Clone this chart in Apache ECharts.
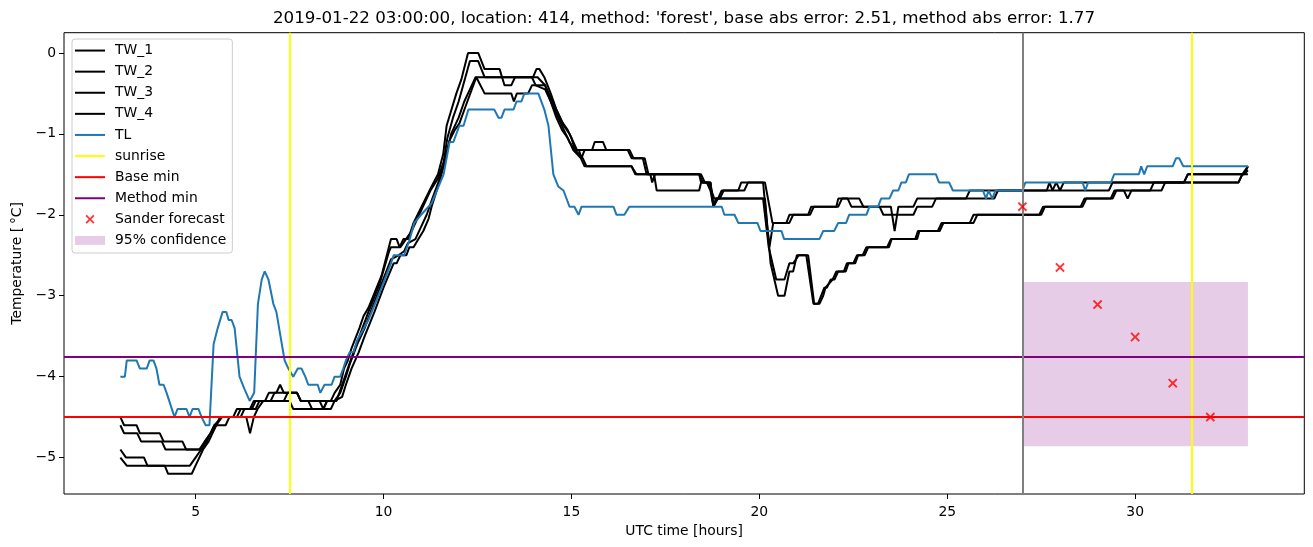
<!DOCTYPE html>
<html><head><meta charset="utf-8">
<script src="https://cdn.jsdelivr.net/npm/echarts@6/dist/echarts.min.js"></script>
<style>html,body{margin:0;padding:0;background:#fff}#c{width:1313px;height:547px}</style>
</head><body><div id="c"></div>
<script>
// ---- data (hours, degC) ----
const TW_1 = [[3.0,-4.5],[3.1,-4.6],[3.43,-4.6],[3.52,-4.7],[4.05,-4.7],[4.15,-4.8],[4.65,-4.8],[4.75,-4.9],[5.1,-4.9],[5.25,-4.8],[5.4,-4.7],[5.5,-4.6],[5.7,-4.5],[6.0,-4.5],[6.1,-4.4],[6.45,-4.4],[6.55,-4.3],[6.85,-4.3],[6.95,-4.2],[7.15,-4.2],[7.25,-4.1],[7.35,-4.2],[7.7,-4.2],[7.8,-4.3],[8.6,-4.3],[8.7,-4.2],[8.85,-4.1],[8.95,-3.9],[9.05,-3.8],[9.15,-3.65],[9.36,-3.4],[9.47,-3.25],[9.6,-3.15],[9.95,-2.75],[10.2,-2.3],[10.35,-2.3],[10.43,-2.4],[10.53,-2.3],[10.66,-2.3],[10.8,-2.1],[10.96,-1.95],[11.28,-1.65],[11.45,-1.5],[11.59,-1.25],[11.68,-0.9],[11.81,-0.7],[11.94,-0.5],[12.07,-0.33],[12.25,0.0],[12.52,0.0],[12.69,-0.2],[13.09,-0.2],[13.22,-0.4],[13.4,-0.4],[13.5,-0.3],[13.98,-0.3],[14.07,-0.2],[14.15,-0.2],[14.28,-0.3],[14.45,-0.5],[14.6,-0.7],[14.75,-0.85],[14.9,-0.95],[15.0,-1.05],[15.1,-1.2],[15.2,-1.2],[15.27,-1.3],[15.35,-1.2],[15.55,-1.2],[15.62,-1.1],[15.84,-1.1],[15.93,-1.2],[16.5,-1.2],[16.6,-1.3],[16.9,-1.3],[17.0,-1.5],[17.1,-1.5],[17.15,-1.6],[17.22,-1.5],[18.4,-1.5],[18.5,-1.6],[18.65,-1.6],[18.8,-1.8],[18.9,-1.8],[19.0,-1.7],[19.44,-1.7],[19.52,-1.6],[20.1,-1.6],[20.2,-2.1],[20.27,-2.4],[20.37,-2.1],[20.72,-2.1],[20.8,-2.0],[21.3,-2.0],[21.38,-1.9],[22.05,-1.9],[22.1,-1.8],[22.66,-1.8],[22.77,-1.9],[23.5,-1.9],[23.6,-2.2],[23.7,-1.9],[24.1,-1.9],[24.2,-1.8],[25.5,-1.8],[25.6,-1.7],[27.65,-1.7],[27.72,-1.6],[27.8,-1.7],[27.9,-1.6],[28.0,-1.7],[28.1,-1.6],[31.3,-1.6],[31.4,-1.5],[32.9,-1.5],[33.0,-1.4]];
const TW_2 = [[3.0,-4.6],[3.1,-4.7],[3.45,-4.7],[3.55,-4.8],[4.1,-4.8],[4.2,-4.9],[5.15,-4.9],[5.3,-4.8],[5.4,-4.7],[5.55,-4.6],[5.65,-4.5],[6.35,-4.5],[6.45,-4.7],[6.55,-4.5],[6.65,-4.4],[6.8,-4.3],[7.35,-4.3],[7.45,-4.2],[7.7,-4.2],[7.8,-4.3],[8.0,-4.3],[8.1,-4.4],[8.4,-4.4],[8.5,-4.3],[8.75,-4.3],[8.9,-4.1],[9.05,-3.9],[9.2,-3.7],[9.4,-3.45],[9.6,-3.2],[9.9,-2.85],[10.15,-2.45],[10.2,-2.4],[10.45,-2.4],[10.6,-2.3],[10.75,-2.2],[10.9,-2.05],[11.1,-1.85],[11.25,-1.7],[11.45,-1.55],[11.6,-1.35],[11.7,-1.05],[11.85,-0.8],[12.0,-0.6],[12.15,-0.35],[12.3,-0.1],[12.52,-0.1],[12.69,-0.3],[14.1,-0.3],[14.3,-0.4],[14.5,-0.6],[14.65,-0.75],[14.8,-0.9],[14.95,-1.0],[15.05,-1.1],[15.15,-1.2],[16.55,-1.2],[16.65,-1.3],[16.95,-1.3],[17.05,-1.5],[18.45,-1.5],[18.55,-1.6],[18.7,-1.6],[18.78,-1.9],[18.85,-1.8],[18.95,-1.8],[19.05,-1.7],[19.6,-1.7],[19.7,-1.6],[20.15,-1.6],[20.35,-2.1],[20.8,-2.1],[20.9,-2.0],[21.35,-2.0],[21.45,-1.9],[22.1,-1.9],[22.2,-1.8],[22.35,-1.8],[22.45,-1.9],[23.2,-1.9],[23.3,-2.0],[24.1,-2.0],[24.2,-1.9],[24.6,-1.9],[24.7,-1.8],[26.25,-1.8],[26.35,-1.7],[29.3,-1.7],[29.4,-1.6],[32.75,-1.6],[32.85,-1.5],[33.0,-1.4]];
const TW_3 = [[3.0,-4.9],[3.15,-5.0],[3.63,-5.0],[3.72,-5.1],[4.85,-5.1],[5.0,-5.0],[5.15,-4.9],[5.25,-4.8],[5.4,-4.7],[5.5,-4.6],[5.8,-4.6],[5.9,-4.5],[6.2,-4.5],[6.3,-4.4],[6.6,-4.4],[6.7,-4.3],[7.5,-4.3],[7.6,-4.4],[8.6,-4.4],[8.7,-4.3],[8.9,-4.25],[9.0,-4.1],[9.15,-3.9],[9.34,-3.7],[9.5,-3.5],[9.76,-3.2],[10.0,-2.9],[10.27,-2.6],[10.35,-2.6],[10.45,-2.5],[10.61,-2.5],[10.69,-2.4],[10.8,-2.4],[10.93,-2.3],[11.06,-2.2],[11.2,-2.05],[11.28,-1.9],[11.45,-1.65],[11.59,-1.42],[11.76,-1.08],[11.9,-0.95],[12.02,-0.87],[12.2,-0.64],[12.47,-0.3],[12.69,-0.5],[13.4,-0.5],[13.47,-0.6],[13.55,-0.5],[13.85,-0.5],[13.95,-0.4],[14.3,-0.4],[14.45,-0.6],[14.6,-0.8],[14.75,-0.95],[14.9,-1.05],[15.05,-1.2],[15.15,-1.25],[15.25,-1.3],[15.35,-1.4],[16.6,-1.4],[16.7,-1.5],[17.2,-1.5],[17.27,-1.7],[18.4,-1.7],[18.45,-1.6],[18.7,-1.6],[18.78,-1.9],[18.85,-1.8],[20.1,-1.8],[20.25,-2.4],[20.45,-2.8],[20.67,-2.8],[20.8,-2.6],[20.9,-2.6],[21.05,-2.5],[21.25,-2.5],[21.44,-3.1],[21.56,-3.1],[21.73,-2.9],[21.8,-2.9],[21.9,-2.8],[22.0,-2.8],[22.1,-2.7],[22.3,-2.7],[22.37,-2.6],[22.55,-2.6],[22.63,-2.5],[22.8,-2.5],[22.9,-2.4],[23.45,-2.4],[23.52,-2.3],[24.2,-2.3],[24.26,-2.2],[24.8,-2.2],[24.9,-2.1],[25.6,-2.1],[25.7,-2.0],[27.45,-2.0],[27.55,-1.9],[28.55,-1.9],[28.65,-1.8],[29.35,-1.8],[29.45,-1.7],[29.7,-1.7],[29.8,-1.8],[29.9,-1.7],[30.4,-1.7],[30.5,-1.6],[31.3,-1.6],[31.4,-1.5],[32.9,-1.5],[33.0,-1.45]];
const TW_4 = [[3.0,-5.0],[3.17,-5.1],[4.18,-5.1],[4.27,-5.2],[4.9,-5.2],[5.0,-5.1],[5.1,-5.0],[5.2,-4.9],[5.35,-4.8],[5.45,-4.7],[5.55,-4.6],[5.7,-4.5],[6.1,-4.5],[6.2,-4.4],[6.5,-4.4],[6.6,-4.3],[7.0,-4.3],[7.1,-4.2],[7.7,-4.2],[7.8,-4.3],[8.3,-4.3],[8.4,-4.4],[8.5,-4.3],[8.7,-4.3],[8.85,-4.2],[9.0,-4.0],[9.1,-3.85],[9.3,-3.6],[9.5,-3.4],[9.7,-3.15],[9.95,-2.85],[10.2,-2.55],[10.4,-2.5],[10.55,-2.45],[10.65,-2.35],[10.85,-2.3],[11.0,-2.15],[11.15,-2.0],[11.3,-1.8],[11.5,-1.55],[11.65,-1.3],[11.8,-1.0],[12.0,-0.8],[12.15,-0.6],[12.3,-0.45],[12.45,-0.3],[13.95,-0.3],[14.05,-0.4],[14.3,-0.45],[14.5,-0.65],[14.65,-0.8],[14.8,-0.95],[14.95,-1.1],[15.1,-1.2],[15.3,-1.3],[15.4,-1.4],[16.6,-1.4],[16.73,-1.5],[18.4,-1.5],[18.45,-1.6],[18.6,-1.6],[18.7,-1.7],[18.78,-1.9],[18.9,-1.8],[20.15,-1.8],[20.3,-2.6],[20.5,-3.0],[20.67,-3.0],[20.8,-2.7],[20.9,-2.7],[21.0,-2.5],[21.3,-2.5],[21.46,-3.1],[21.6,-3.1],[21.7,-3.0],[21.76,-2.9],[21.95,-2.8],[22.05,-2.7],[22.25,-2.7],[22.33,-2.6],[22.5,-2.6],[22.6,-2.5],[22.75,-2.5],[22.85,-2.4],[23.4,-2.4],[23.5,-2.3],[24.15,-2.3],[24.22,-2.2],[24.75,-2.2],[24.85,-2.1],[25.7,-2.1],[25.8,-2.0],[27.5,-2.0],[27.6,-1.9],[28.6,-1.9],[28.7,-1.8],[29.4,-1.8],[29.5,-1.7],[30.7,-1.7],[30.8,-1.6],[32.75,-1.6],[32.85,-1.5],[33.0,-1.5]];
const TL = [[3.0,-4.0],[3.12,-4.0],[3.17,-3.8],[3.43,-3.8],[3.52,-3.9],[3.7,-3.9],[3.78,-3.8],[3.88,-3.8],[3.96,-3.9],[4.04,-4.1],[4.15,-4.1],[4.23,-4.2],[4.3,-4.3],[4.44,-4.5],[4.52,-4.4],[4.76,-4.4],[4.84,-4.5],[4.92,-4.4],[5.08,-4.4],[5.16,-4.5],[5.27,-4.6],[5.37,-4.6],[5.48,-3.6],[5.59,-3.4],[5.72,-3.2],[5.82,-3.2],[5.88,-3.3],[5.96,-3.3],[6.04,-3.4],[6.17,-4.0],[6.3,-4.15],[6.44,-4.3],[6.56,-4.2],[6.66,-3.1],[6.76,-2.8],[6.84,-2.7],[6.94,-2.8],[7.07,-3.1],[7.15,-3.2],[7.37,-3.8],[7.47,-3.9],[7.6,-4.0],[7.72,-3.9],[7.82,-3.9],[7.92,-4.0],[8.0,-4.1],[8.25,-4.1],[8.32,-4.2],[8.43,-4.1],[8.62,-4.1],[8.7,-4.0],[8.85,-4.0],[8.93,-3.9],[9.0,-3.8],[9.1,-3.7],[9.2,-3.7],[9.3,-3.55],[9.6,-3.3],[9.95,-2.9],[10.2,-2.6],[10.27,-2.5],[10.55,-2.5],[10.7,-2.3],[10.82,-2.1],[11.0,-2.0],[11.28,-1.86],[11.6,-1.5],[11.76,-1.1],[11.86,-1.1],[12.02,-0.9],[12.13,-0.9],[12.26,-0.7],[12.95,-0.7],[13.06,-0.8],[13.14,-0.8],[13.22,-0.7],[13.46,-0.7],[13.54,-0.6],[13.67,-0.6],[13.75,-0.5],[14.12,-0.5],[14.28,-0.7],[14.39,-0.9],[14.52,-1.5],[14.65,-1.65],[14.79,-1.7],[14.95,-1.9],[15.08,-1.9],[15.19,-2.0],[15.27,-1.9],[16.12,-1.9],[16.2,-2.0],[16.41,-2.0],[16.54,-1.9],[19.0,-1.9],[19.07,-2.0],[19.34,-2.0],[19.44,-2.1],[19.95,-2.1],[20.03,-2.2],[20.59,-2.2],[20.66,-2.3],[21.6,-2.3],[21.7,-2.2],[21.99,-2.2],[22.1,-2.1],[22.31,-2.1],[22.39,-2.0],[22.85,-2.0],[22.93,-1.9],[23.16,-1.9],[23.24,-1.8],[23.46,-1.8],[23.56,-1.7],[23.7,-1.7],[23.78,-1.6],[23.9,-1.6],[23.98,-1.5],[24.7,-1.5],[24.78,-1.6],[25.05,-1.6],[25.15,-1.7],[25.95,-1.7],[26.03,-1.8],[26.1,-1.7],[26.2,-1.8],[26.28,-1.7],[27.0,-1.7],[27.08,-1.6],[28.6,-1.6],[28.67,-1.7],[28.75,-1.6],[29.36,-1.6],[29.44,-1.5],[30.1,-1.5],[30.16,-1.4],[30.24,-1.5],[30.32,-1.4],[31.0,-1.4],[31.09,-1.3],[31.17,-1.3],[31.28,-1.4],[33.0,-1.4]];
const sunriseHours = [7.5, 31.5];
const forecastHour = [27];
const baseMin = [-4.5];
const methodMin = [-3.75];
const sanderHours = [27, 28, 29, 30, 31, 32];
const sanderValues = [-1.9, -2.65, -3.11, -3.51, -4.08, -4.5];
const confHours = [27, 33];
const confBounds = [-2.83, -4.86];
const xTicks = [5, 10, 15, 20, 25, 30];
const yTicks = [-5, -4, -3, -2, -1, 0];
const titleText = "2019-01-22 03:00:00, location: 414, method: 'forest', base abs error: 2.51, method abs error: 1.77";

// ---- chart ----
const FONT = 'DejaVu Sans';
const X_PATH = 'path://M0,1.4L1.4,0L5,3.6L8.6,0L10,1.4L6.4,5L10,8.6L8.6,10L5,6.4L1.4,10L0,8.6L3.6,5Z';
const LINE_ICON = 'path://M0,0h30v2h-30z';
const RECT_ICON = 'path://M0,0h30v9h-30z';
const minus = v => String(v).replace('-', '\u2212');
function lineSeries(name, data, color) {
  return { name, type: 'line', data, symbol: 'none', showSymbol: false, color,
    lineStyle: { color, width: 2 }, itemStyle: { color }, z: 3, silent: true };
}
function markLines(name, color, items) {
  return { name, type: 'line', data: [], color, lineStyle: { color, width: 2 }, itemStyle: { color }, symbol: 'none',
    markLine: { silent: true, symbol: ['none', 'none'], label: { show: false },
      lineStyle: { color, width: 2, type: 'solid' }, emphasis: { disabled: true }, data: items }, z: 4 };
}
const series = [
  lineSeries('TW_1', TW_1, '#000000'),
  lineSeries('TW_2', TW_2, '#000000'),
  lineSeries('TW_3', TW_3, '#000000'),
  lineSeries('TW_4', TW_4, '#000000'),
  lineSeries('TL', TL, '#1f77b4'),
  markLines('sunrise', '#ffff00', sunriseHours.map(h => ({ xAxis: h }))),
  markLines('Base min', '#ff0000', baseMin.map(v => ({ yAxis: v }))),
  markLines('Method min', '#800080', methodMin.map(v => ({ yAxis: v }))),
  markLines('forecast time', '#808080', forecastHour.map(h => ({ xAxis: h }))),
  { name: 'Sander forecast', type: 'scatter', symbol: X_PATH, symbolSize: 9.5, color: '#ff0000',
    itemStyle: { color: '#ff0000' }, data: sanderHours.map((h, i) => [h, sanderValues[i]]), z: 6, silent: true },
  { name: '95% confidence', type: 'line', data: [], color: 'rgba(128,0,128,0.2)',
    itemStyle: { color: 'rgba(128,0,128,0.2)' }, lineStyle: { color: 'rgba(128,0,128,0.2)' },
    markArea: { silent: true, itemStyle: { color: 'rgba(128,0,128,0.2)' },
      data: [[{ coord: [confHours[0], confBounds[0]] }, { coord: [confHours[1], confBounds[1]] }]] }, z: 1 }
];
const legendNames = ['TW_1', 'TW_2', 'TW_3', 'TW_4', 'TL', 'sunrise', 'Base min', 'Method min', 'Sander forecast', '95% confidence'];
const legendIcons = { 'Sander forecast': X_PATH, '95% confidence': RECT_ICON };
const chart = echarts.init(document.getElementById('c'), null, { renderer: 'canvas' });
chart.setOption({
  animation: false,
  backgroundColor: '#ffffff',
  title: { text: titleText, left: 684, top: 10, textAlign: 'center', padding: 0,
    textStyle: { fontFamily: FONT, fontSize: 16.7, fontWeight: 'normal', color: '#000' } },
  grid: { left: 64, right: 8.7, top: 32.7, bottom: 53, show: true, borderColor: '#000', borderWidth: 1,
    backgroundColor: 'transparent', containLabel: false, outerBoundsMode: 'none' },
  legend: {
    orient: 'vertical', left: 72, top: 39, selectedMode: false,
    data: legendNames.map(n => ({ name: n, icon: legendIcons[n] || LINE_ICON })),
    itemWidth: 30, itemHeight: 9, itemGap: 0,
    textStyle: { fontFamily: FONT, fontSize: 13.9, color: '#000', lineHeight: 21.1, padding: [0, 0, 0, 5] },
    backgroundColor: 'rgba(255,255,255,0.8)', borderColor: '#cccccc', borderWidth: 1, borderRadius: 3,
    padding: [1, 6, 2, 3]
  },
  xAxis: {
    type: 'value', min: 1.5, max: 34.5,
    name: 'UTC time [hours]', nameLocation: 'middle', nameGap: 29,
    nameTextStyle: { fontFamily: FONT, fontSize: 13.9, color: '#000' },
    axisLine: { show: false, onZero: false }, splitLine: { show: false },
    axisTick: { show: true, length: 5, lineStyle: { color: '#000', width: 1 }, customValues: xTicks },
    axisLabel: { customValues: xTicks, margin: 11, fontFamily: FONT, fontSize: 13.9, color: '#000', formatter: minus }
  },
  yAxis: {
    type: 'value', min: -5.45, max: 0.25,
    name: 'Temperature [\u2009°C]', nameLocation: 'middle', nameGap: 38,
    nameTextStyle: { fontFamily: FONT, fontSize: 13.9, color: '#000' },
    axisLine: { show: false, onZero: false }, splitLine: { show: false },
    axisTick: { show: true, length: 5, lineStyle: { color: '#000', width: 1 }, customValues: yTicks },
    axisLabel: { customValues: yTicks, margin: 8, fontFamily: FONT, fontSize: 13.9, color: '#000', formatter: minus }
  },
  series
});
</script></body></html>
